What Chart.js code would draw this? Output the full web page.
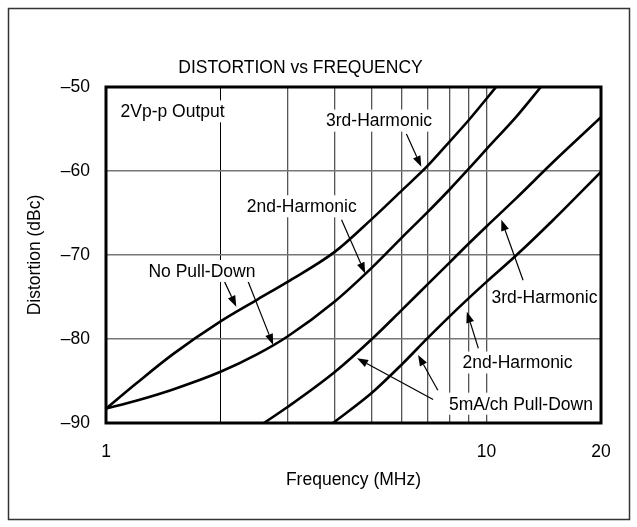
<!DOCTYPE html>
<html>
<head>
<meta charset="utf-8">
<script src="https://cdn.jsdelivr.net/npm/chart.js@4.4.1/dist/chart.umd.min.js"></script>
<style>
  html, body { margin: 0; padding: 0; background: #fff; }
  canvas { display: block; }
</style>
</head>
<body>
<canvas id="chart" width="637" height="527"></canvas>
<script>
// ── Data (frequency in MHz, distortion in dBc) ──
const noPd3Freq = [1, 1.2, 1.5, 2, 2.5, 3, 4, 5, 6, 7, 8, 9, 10, 10.6];
const noPd3Db   = [-88.3, -85.3, -81.8, -77.9, -75.3, -73.2, -69.6, -65.7, -62.3, -59.4, -56.5, -53.9, -51.4, -50.0];

const noPd2Freq = [1, 1.2, 1.5, 2, 2.5, 3, 4, 5, 6, 7, 8, 9, 10, 12, 13.9];
const noPd2Db   = [-88.3, -87.35, -86.0, -83.9, -81.8, -79.7, -75.5, -71.5, -67.9, -64.9, -62.2, -59.7, -57.4, -53.5, -50.0];

const pd3Freq = [2.6, 3, 4, 5, 6, 7, 8, 9, 10, 12, 15, 20];
const pd3Db   = [-90.0, -88.1, -83.9, -80.0, -76.5, -73.5, -70.9, -68.6, -66.6, -63.2, -58.9, -53.6];

const pd2Freq = [3.95, 5, 6, 7, 8, 9, 10, 12, 15, 20];
const pd2Db   = [-90.0, -86.4, -83.0, -79.9, -77.3, -75.1, -73.2, -70.0, -65.8, -60.1];

// axis ticks
const freqGrid   = [1, 2, 3, 4, 5, 6, 7, 8, 9, 10, 20];
const freqLabels = [1, 10, 20];
const dbTicks    = [-90, -80, -70, -60, -50];

// ── Callouts (data coordinates) ──
const NOTES = [
  { text: "2Vp-p Output",     f: 1.092, db: -52.9, align: "left" },
  { text: "3rd-Harmonic",     f: 5.22,  db: -54.0 },
  { text: "2nd-Harmonic",     f: 3.27,  db: -64.2 },
  { text: "No Pull-Down",     f: 1.787, db: -71.9 },
  { text: "3rd-Harmonic",     f: 14.2,  db: -75.0 },
  { text: "2nd-Harmonic",     f: 12.07, db: -82.8 },
  { text: "5mA/ch Pull-Down", f: 12.32, db: -87.7 }
];
const ARROWS = [
  { from: [6.16, -55.6], to: [6.74, -59.5] },
  { from: [4.16, -65.8], to: [4.80, -72.2] },
  { from: [2.05, -73.2], to: [2.20, -76.15] },
  { from: [2.36, -73.1], to: [2.75, -80.7] },
  { from: [12.48, -73.0], to: [10.94, -65.8] },
  { from: [9.52, -81.1], to: [8.88, -76.75] },
  { from: [7.24, -87.2], to: [4.57, -82.3] },
  { from: [7.45, -86.1], to: [6.61, -81.9] }
];

const FONT = "'Liberation Sans', Arial, Helvetica, sans-serif";
const FSIZE = 17.5;
Chart.defaults.font.family = FONT;
Chart.defaults.color = "#000";

function toPoints(xs, ys) {
  return xs.map((x, i) => ({ x, y: ys[i] }));
}

const series = [
  toPoints(noPd3Freq, noPd3Db),
  toPoints(noPd2Freq, noPd2Db),
  toPoints(pd3Freq, pd3Db),
  toPoints(pd2Freq, pd2Db)
];

// ── Plugins: page frame, callouts, heavy plot border ──
const framePlugin = {
  id: "frame",
  beforeDraw(chart) {
    const c = chart.ctx;
    c.save();
    c.fillStyle = "#fff";
    c.fillRect(0, 0, chart.width, chart.height);
    c.strokeStyle = "#333";
    c.lineWidth = 1.5;
    c.strokeRect(8.5, 8.5, 621, 511);
    c.restore();
  }
};

const calloutPlugin = {
  id: "callouts",
  afterDatasetsDraw(chart) {
    const c = chart.ctx;
    const xs = chart.scales.x, ys = chart.scales.y;
    c.save();
    // arrows
    c.strokeStyle = "#000";
    c.fillStyle = "#000";
    c.lineWidth = 1.2;
    ARROWS.forEach((a) => {
      const x1 = xs.getPixelForValue(a.from[0]), y1 = ys.getPixelForValue(a.from[1]);
      const x2 = xs.getPixelForValue(a.to[0]), y2 = ys.getPixelForValue(a.to[1]);
      const ang = Math.atan2(y2 - y1, x2 - x1);
      const hl = 11, hw = 4;
      const bx = x2 - hl * Math.cos(ang), by = y2 - hl * Math.sin(ang);
      c.beginPath();
      c.moveTo(x1, y1);
      c.lineTo(bx, by);
      c.stroke();
      c.beginPath();
      c.moveTo(x2, y2);
      c.lineTo(bx + hw * Math.sin(ang), by - hw * Math.cos(ang));
      c.lineTo(bx - hw * Math.sin(ang), by + hw * Math.cos(ang));
      c.closePath();
      c.fill();
    });
    // labels with white backing (grid lines break around them)
    c.font = `${FSIZE}px ${FONT}`;
    c.textBaseline = "middle";
    NOTES.forEach((n) => {
      const x = xs.getPixelForValue(n.f), y = ys.getPixelForValue(n.db);
      const w = c.measureText(n.text).width;
      const left = n.align === "left" ? x : x - w / 2;
      c.fillStyle = "#fff";
      c.fillRect(left - 3, y - 11, w + 6, 22);
      c.fillStyle = "#000";
      c.textAlign = "left";
      c.fillText(n.text, left, y + 1);
    });
    // plot border
    const { left, top, right, bottom } = chart.chartArea;
    c.strokeStyle = "#000";
    c.lineWidth = 3;
    c.strokeRect(left, top, right - left, bottom - top);
    c.restore();
  }
};

new Chart(document.getElementById("chart"), {
  type: "scatter",
  data: {
    datasets: series.map((pts) => ({
      data: pts,
      showLine: true,
      borderColor: "#000",
      borderWidth: 2.6,
      pointRadius: 0,
      cubicInterpolationMode: "monotone",
      fill: false
    }))
  },
  options: {
    responsive: false,
    animation: false,
    events: [],
    layout: { padding: { left: 0, right: 36, top: 0, bottom: 0 } },
    plugins: {
      legend: { display: false },
      tooltip: { enabled: false },
      title: {
        display: true,
        text: "DISTORTION vs FREQUENCY",
        color: "#000",
        font: { size: FSIZE, weight: "normal", lineHeight: 1.2 },
        padding: { top: 58, bottom: 8 }
      }
    },
    scales: {
      x: {
        type: "logarithmic",
        min: 1,
        max: 20,
        afterBuildTicks: (s) => { s.ticks = freqGrid.map((v) => ({ value: v })); },
        afterFit: (s) => { s.height = 104; },
        ticks: {
          autoSkip: false,
          maxRotation: 0,
          padding: 19,
          color: "#000",
          font: { size: FSIZE },
          callback: (v) => (freqLabels.includes(v) ? String(v) : "")
        },
        grid: {
          drawTicks: false,
          color: (ctx) => {
            const v = ctx.tick && ctx.tick.value;
            if (v === 1 || v === 20) return "rgba(0,0,0,0)";
            return v === 2 ? "#000" : "#555";
          },
          lineWidth: (ctx) => (ctx.tick && ctx.tick.value === 2 ? 1 : 1.3)
        },
        border: { display: false },
        title: {
          display: true,
          text: "Frequency (MHz)",
          color: "#000",
          font: { size: FSIZE, lineHeight: 1.2 },
          padding: { top: 0, bottom: 36 }
        }
      },
      y: {
        min: -90,
        max: -50,
        afterBuildTicks: (s) => { s.ticks = dbTicks.map((v) => ({ value: v })); },
        afterFit: (s) => { s.width = 106; },
        ticks: {
          padding: 16,
          color: "#000",
          font: { size: FSIZE },
          callback: (v) => "\u2013" + Math.abs(v)
        },
        grid: {
          drawTicks: false,
          color: (ctx) => {
            const v = ctx.tick && ctx.tick.value;
            return v === -90 || v === -50 ? "rgba(0,0,0,0)" : "#777";
          },
          lineWidth: 1.5
        },
        border: { display: false },
        title: {
          display: true,
          text: "Distortion (dBc)",
          color: "#000",
          font: { size: FSIZE, lineHeight: 1.2 },
          padding: { top: 25, bottom: 0 }
        }
      }
    }
  },
  plugins: [framePlugin, calloutPlugin]
});
</script>
</body>
</html>
